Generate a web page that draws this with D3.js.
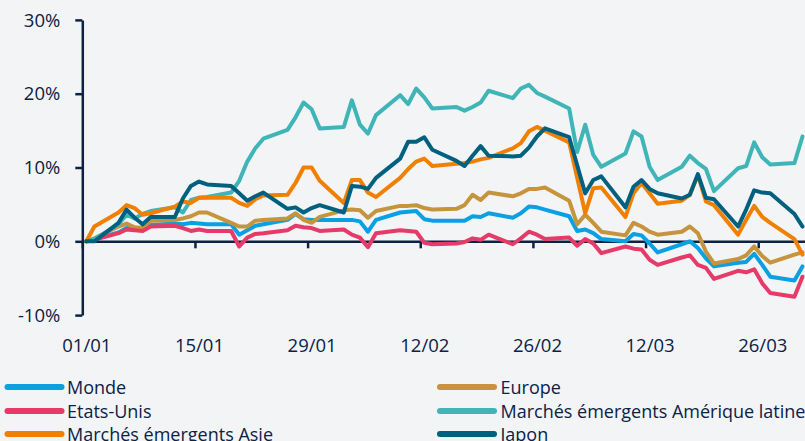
<!DOCTYPE html>
<html>
<head>
<meta charset="utf-8">
<script src="https://cdn.jsdelivr.net/npm/d3@7"></script>
<style>
  html, body { margin: 0; padding: 0; background: #f2f4f6; }
  svg { display: block; font-family: 'Open Sans', 'Noto Sans', sans-serif; }
</style>
</head>
<body>
<div id="chart"></div>
<script>
// trading days (business days, 2026)
const dates = [
  '2026-01-01', '2026-01-02', '2026-01-05', '2026-01-06', '2026-01-07', '2026-01-08', '2026-01-09',
  '2026-01-12', '2026-01-13', '2026-01-14', '2026-01-15', '2026-01-16', '2026-01-19', '2026-01-20',
  '2026-01-21', '2026-01-22', '2026-01-23', '2026-01-26', '2026-01-27', '2026-01-28', '2026-01-29',
  '2026-01-30', '2026-02-02', '2026-02-03', '2026-02-04', '2026-02-05', '2026-02-06', '2026-02-09',
  '2026-02-10', '2026-02-11', '2026-02-12', '2026-02-13', '2026-02-16', '2026-02-17', '2026-02-18',
  '2026-02-19', '2026-02-20', '2026-02-23', '2026-02-24', '2026-02-25', '2026-02-26', '2026-02-27',
  '2026-03-02', '2026-03-03', '2026-03-04', '2026-03-05', '2026-03-06', '2026-03-09', '2026-03-10',
  '2026-03-11', '2026-03-12', '2026-03-13', '2026-03-16', '2026-03-17', '2026-03-18', '2026-03-19',
  '2026-03-20', '2026-03-23', '2026-03-24', '2026-03-25', '2026-03-26', '2026-03-27', '2026-03-30',
  '2026-03-31',
];

const monde = [
  0, 0.3, 1.2, 1.8, 1.6, 1.9, 2.2, 2.4, 2.3, 2.5, 2.4, 2.3, 2.3, 0.9, 1.5, 2.1, 2.3, 2.9, 3.7, 3.0, 2.9, 2.9,
  2.9, 2.9, 2.7, 1.3, 2.9, 3.9, 4.0, 4.1, 3.0, 2.8, 2.8, 2.8, 3.4, 3.3, 3.8, 3.2, 3.8, 4.7, 4.6, 4.3,
  3.4, 1.4, 1.6, 1.1, 0.3, 0.0, 1.0, 0.8, -0.3, -1.5, -0.4, 0.0, -0.9, -2.3, -3.4, -2.9, -2.8, -1.7, -3.2, -4.8, -5.3, -3.4,
];
const europe = [
  0, 0.4, 2.0, 2.4, 1.9, 1.8, 2.8, 2.9, 3.1, 3.4, 3.9, 3.9, 2.5, 2.0, 2.0, 2.8, 2.9, 3.1, 3.8, 2.9, 2.5, 3.3,
  4.2, 4.3, 4.2, 3.2, 4.1, 4.8, 4.8, 4.9, 4.5, 4.3, 4.4, 4.9, 6.3, 5.6, 6.6, 6.1, 6.5, 7.1, 7.1, 7.3,
  5.5, 2.3, 3.6, 2.5, 1.3, 0.8, 2.5, 2.0, 1.3, 0.9, 1.3, 2.0, 1.1, -1.4, -3.0, -2.4, -1.9, -0.7, -2.0, -2.9, -1.8, -1.5,
];
const etatsUnis = [
  0, 0.2, 1.1, 1.6, 1.5, 1.4, 2.0, 2.1, 1.8, 1.4, 1.6, 1.4, 1.4, -0.7, 0.5, 1.0, 1.1, 1.5, 2.1, 1.9, 1.8, 1.4,
  1.6, 0.9, 0.5, -0.8, 1.1, 1.5, 1.4, 1.3, -0.2, -0.4, -0.3, -0.1, 0.4, 0.2, 0.9, -0.4, 0.4, 1.3, 0.9, 0.3,
  0.5, -0.6, 0.3, -0.3, -1.6, -0.7, -1.0, -1.1, -2.5, -3.2, -2.2, -1.9, -3.2, -3.6, -5.1, -4.0, -4.2, -3.8, -5.7, -7.0, -7.5, -4.8,
];
const ameriqueLatine = [
  0, 0.3, 2.3, 3.6, 3.1, 3.7, 4.1, 4.6, 3.9, 5.6, 5.9, 6.0, 6.6, 8.2, 10.8, 12.6, 13.9, 15.1, 16.8, 18.8, 17.9, 15.3,
  15.5, 19.1, 15.8, 14.6, 17.1, 19.8, 18.6, 20.7, 19.5, 18.0, 18.2, 17.7, 18.2, 18.8, 20.4, 19.4, 20.7, 21.2, 20.1, 19.6,
  18.0, 12.1, 15.8, 11.7, 10.1, 11.9, 14.9, 14.2, 10.1, 8.3, 10.1, 11.6, 10.6, 9.8, 6.8, 9.9, 10.2, 13.4, 11.4, 10.4, 10.6, 14.2,
];
const asie = [
  0, 2.0, 3.9, 4.9, 4.5, 3.6, 3.8, 4.7, 5.4, 5.2, 5.9, 5.9, 5.9, 5.2, 4.8, 5.7, 6.2, 6.3, 7.9, 10.0, 10.0, 8.2,
  5.2, 8.3, 8.3, 6.6, 6.0, 8.6, 9.8, 10.8, 11.2, 10.2, 10.5, 10.6, 10.8, 11.1, 11.3, 12.6, 13.3, 14.9, 15.5, 15.0,
  13.4, 8.6, 3.8, 7.2, 7.3, 3.3, 6.5, 7.9, 6.5, 5.1, 5.5, 6.3, 9.0, 5.4, 4.9, 0.9, 2.9, 4.8, 3.3, 2.5, 0.3, -1.8,
];
const japon = [
  0, 0.0, 2.5, 4.3, 3.2, 2.3, 3.3, 3.3, 5.8, 7.5, 8.1, 7.7, 7.5, 6.5, 5.5, 6.1, 6.6, 4.4, 4.6, 3.9, 4.5, 4.9,
  3.9, 7.5, 7.4, 7.1, 8.6, 11.2, 13.5, 13.5, 14.1, 12.4, 10.9, 10.2, 11.6, 12.9, 11.6, 11.5, 11.6, 12.7, 14.2, 15.3,
  14.1, 10.3, 6.5, 8.3, 8.8, 4.6, 7.4, 8.3, 7.1, 6.5, 5.8, 6.3, 9.1, 5.9, 5.7, 2.0, 4.3, 6.9, 6.6, 6.5, 3.7, 2.0,
];

const yTicks = [-10, 0, 10, 20, 30];
const xTicks = ['2026-01-01', '2026-01-15', '2026-01-29', '2026-02-12', '2026-02-26', '2026-03-12', '2026-03-26'];

// legend order is row by row, two columns
const series = [
  { name: 'Monde', values: monde, color: '#0aa0e2' },
  { name: 'Europe', values: europe, color: '#c6943c' },
  { name: 'Etats-Unis', values: etatsUnis, color: '#e63a68' },
  { name: 'Marchés émergents Amérique latine', values: ameriqueLatine, color: '#3fb5b8' },
  { name: 'Marchés émergents Asie', values: asie, color: '#f28000' },
  { name: 'Japon', values: japon, color: '#00607f' },
];

const width = 805;
const height = 441;
const navy = '#0c2245';
const fontSize = '18.5px';
const legendFontSize = '18px';

const parse = d3.utcParse('%Y-%m-%d');
const days = dates.map(parse);

const svg = d3
  .select('#chart')
  .append('svg')
  .attr('width', width)
  .attr('height', height);

svg.append('rect').attr('width', width).attr('height', height).attr('fill', '#f2f4f6');

const x = d3
  .scaleUtc()
  .domain([parse('2026-01-01'), parse('2026-04-01')])
  .range([82.3, 806.5]);

const y = d3.scaleLinear().domain([-10, 30]).range([315.1, 19.9]);

// points sit in the middle of their day
const mid = (d) => x(d3.utcHour.offset(d, 12));
const halfDay = mid(parse('2026-01-01')) - x(parse('2026-01-01'));

const yAxis = svg
  .append('g')
  .attr('transform', `translate(${x.range()[0]},0)`)
  .call(
    d3
      .axisLeft(y)
      .tickValues(yTicks)
      .tickSize(7)
      .tickSizeOuter(0)
      .tickFormat((d) => d + '%')
  );

yAxis.selectAll('path, line').attr('stroke', navy).attr('stroke-width', 2.5);
yAxis
  .selectAll('text')
  .attr('x', -22)
  .attr('dy', '0.34em')
  .attr('fill', navy)
  .style('font-size', fontSize)
  .style('font-family', "'Open Sans', 'Noto Sans', sans-serif");

const xAxis = svg
  .append('g')
  .attr('transform', `translate(0,${y(0)})`)
  .call(
    d3
      .axisBottom(x)
      .tickValues(xTicks.map(parse))
      .tickSize(7)
      .tickSizeOuter(0)
      .tickFormat(d3.utcFormat('%d/%m'))
  );

xAxis.selectAll('path, line').attr('stroke', navy).attr('stroke-width', 2.5);
xAxis
  .selectAll('text')
  .attr('x', halfDay)
  .attr('y', 111)
  .attr('dy', 0)
  .attr('fill', navy)
  .style('font-size', fontSize)
  .style('font-family', "'Open Sans', 'Noto Sans', sans-serif");

const line = d3
  .line()
  .x((d, i) => mid(days[i]))
  .y((d) => y(d));

svg
  .append('g')
  .selectAll('.serie')
  .data(series)
  .enter()
  .append('path')
  .attr('class', 'serie')
  .attr('d', (d) => line(d.values))
  .attr('fill', 'none')
  .attr('stroke', (d) => d.color)
  .attr('stroke-width', 4)
  .attr('stroke-linejoin', 'round')
  .attr('stroke-linecap', 'round');

const legendCols = [4.5, 437];
const legendRows = [387, 411, 434];

const legend = svg
  .append('g')
  .selectAll('.legend')
  .data(series)
  .enter()
  .append('g')
  .attr('class', 'legend')
  .attr('transform', (d, i) => `translate(${legendCols[i % 2]},${legendRows[Math.floor(i / 2)]})`);

legend
  .append('line')
  .attr('x1', 3)
  .attr('x2', 57)
  .attr('stroke', (d) => d.color)
  .attr('stroke-width', 6)
  .attr('stroke-linecap', 'round');

legend
  .append('text')
  .text((d) => d.name)
  .attr('x', (d, i) => (i % 2 ? 63.5 : 62.5))
  .attr('y', 7)
  .attr('fill', navy)
  .style('font-size', legendFontSize);
</script>
</body>
</html>
